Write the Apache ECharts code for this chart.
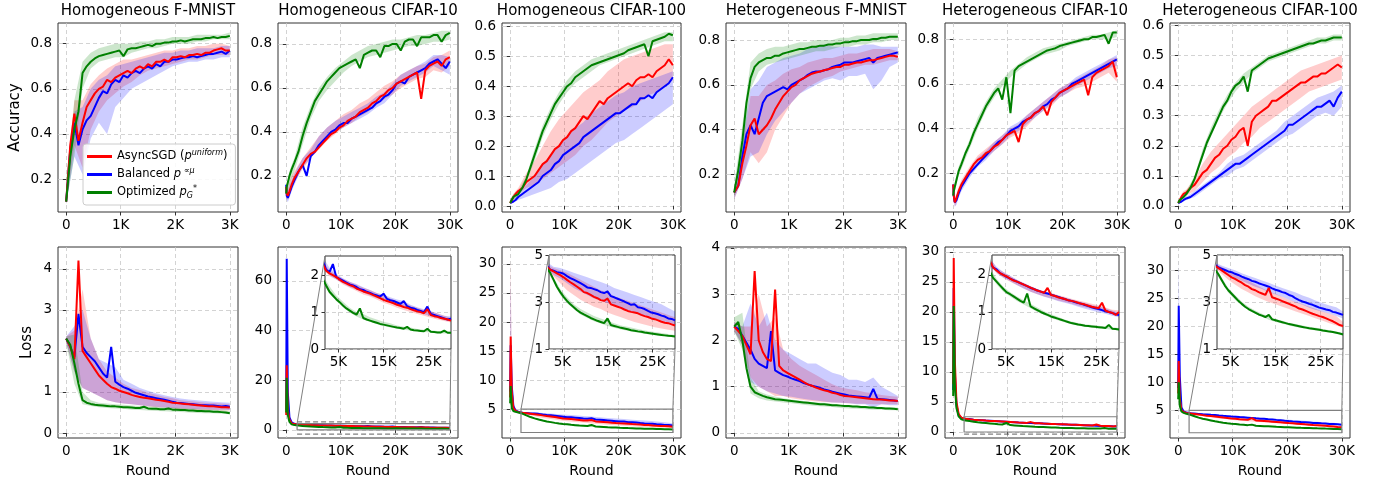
<!DOCTYPE html>
<html><head><meta charset="utf-8">
<script src="https://cdn.jsdelivr.net/npm/echarts@6/dist/echarts.min.js"></script>
<style>html,body{margin:0;padding:0;background:#fff}#c{width:1382px;height:484px}</style>
</head><body><div id="c"></div>
<script>
// ---------- x grids (rounds) ----------
const X3 = [0,75,150,225,300,375,450,525,600,675,750,825,900,975,1050,1125,1200,1275,1350,1425,1500,1575,1650,1725,1800,1875,1950,2025,2100,2175,2250,2325,2400,2475,2550,2625,2700,2775,2850,2925,3000];
const XB3 = [0,150,300,450,600,750,900,1050,1200,1350,1500,1650,1800,1950,2100,2250,2400,2550,2700,2850,3000];
const X30 = [0,100,300,600,1000,1500,2250,3000,3750,4500,5250,6000,6750,7500,8250,9000,9750,10500,11250,12000,12750,13500,14250,15000,15750,16500,17250,18000,18750,19500,20250,21000,21750,22500,23250,24000,24750,25500,26250,27000,27750,28500,29250,30000];
const XB30 = [0,100,300,600,1000,1500,3000,4500,6000,7500,9000,10500,12000,13500,15000,16500,18000,19500,21000,22500,24000,25500,27000,28500,30000];

// ---------- titles / ticks ----------
const TITLES = ['Homogeneous F-MNIST','Homogeneous CIFAR-10','Homogeneous CIFAR-100','Heterogeneous F-MNIST','Heterogeneous CIFAR-10','Heterogeneous CIFAR-100'];
const X3_TICKS = [0,1000,2000,3000];
const X30_TICKS = [0,10000,20000,30000];
const INSET_X_TICKS = [5000,15000,25000];
const ACC_TICKS_A = [0.2,0.4,0.6,0.8];
const ACC_TICKS_B = [0,0.1,0.2,0.3,0.4,0.5,0.6];
const LOSS_TICKS_F = [0,1,2,3,4];
const LOSS_TICKS_C10 = [0,20,40,60];
const LOSS_TICKS_C100 = [5,10,15,20,25,30];
const LOSS_TICKS_HC10 = [0,5,10,15,20,25,30];
const INSET_TICKS_A = [0,1,2];
const INSET_TICKS_B = [1,3,5];

// ---------- Homogeneous F-MNIST accuracy ----------
const hfaR = [0.10,0.35,0.49,0.37,0.45,0.52,0.55,0.58,0.60,0.61,0.64,0.63,0.65,0.66,0.67,0.68,0.67,0.69,0.70,0.69,0.71,0.70,0.72,0.72,0.73,0.72,0.74,0.74,0.745,0.74,0.75,0.75,0.755,0.75,0.76,0.76,0.77,0.775,0.78,0.77,0.77];
const hfaB = [0.10,0.33,0.45,0.35,0.42,0.46,0.48,0.52,0.56,0.59,0.58,0.62,0.64,0.63,0.66,0.65,0.67,0.68,0.67,0.69,0.70,0.69,0.71,0.70,0.72,0.72,0.73,0.73,0.735,0.74,0.74,0.745,0.74,0.745,0.75,0.755,0.755,0.76,0.765,0.755,0.77];
const hfaG = [0.10,0.30,0.42,0.50,0.67,0.70,0.72,0.735,0.745,0.75,0.755,0.76,0.765,0.77,0.745,0.775,0.78,0.78,0.785,0.79,0.795,0.79,0.80,0.80,0.805,0.805,0.81,0.81,0.815,0.81,0.815,0.82,0.82,0.82,0.825,0.825,0.83,0.825,0.83,0.83,0.835];
const hfaRLo = [.09,.35,.25,.42,.50,.55,.58,.61,.63,.66,.68,.69,.70,.71,.72,.73,.73,.74,.75,.75,.75];
const hfaRHi = [.12,.55,.55,.62,.66,.69,.71,.73,.73,.74,.75,.76,.77,.77,.78,.78,.79,.79,.80,.80,.79];
const hfaBLo = [.09,.30,.22,.38,.45,.40,.52,.56,.60,.62,.64,.66,.68,.70,.71,.72,.72,.73,.73,.74,.74];
const hfaBHi = [.12,.50,.52,.60,.64,.66,.70,.71,.72,.73,.74,.75,.76,.76,.77,.77,.78,.78,.78,.79,.79];
const hfaGLo = [.09,.30,.60,.69,.72,.73,.74,.74,.76,.77,.78,.78,.79,.80,.80,.80,.81,.81,.82,.82,.82];
const hfaGHi = [.20,.55,.72,.76,.78,.79,.80,.80,.80,.81,.81,.82,.82,.83,.83,.83,.84,.84,.84,.84,.85];

// ---------- Homogeneous F-MNIST loss ----------
const hflR = [2.3,2.1,1.8,4.2,2.0,1.85,1.7,1.55,1.4,1.3,1.2,1.12,1.08,1.03,1.0,0.97,0.93,0.9,0.88,0.86,0.85,0.83,0.81,0.8,0.78,0.76,0.74,0.73,0.72,0.71,0.7,0.69,0.68,0.67,0.66,0.65,0.65,0.64,0.63,0.63,0.62];
const hflB = [2.3,2.1,1.85,2.9,2.1,1.95,1.85,1.75,1.6,1.45,1.35,2.1,1.25,1.18,1.12,1.08,1.03,0.98,0.95,0.92,0.89,0.87,0.85,0.83,0.81,0.79,0.76,0.74,0.73,0.72,0.71,0.7,0.69,0.68,0.68,0.67,0.67,0.66,0.65,0.66,0.64];
const hflG = [2.3,2.15,1.7,1.2,0.8,0.74,0.71,0.69,0.68,0.67,0.66,0.65,0.65,0.64,0.63,0.63,0.62,0.61,0.61,0.64,0.60,0.59,0.59,0.58,0.58,0.60,0.57,0.57,0.56,0.56,0.55,0.55,0.54,0.54,0.53,0.53,0.52,0.52,0.51,0.50,0.48];
const hflRLo = [2.2,1.5,1.1,1.0,0.9,0.8,0.75,0.72,0.7,0.68,0.65,0.63,0.62,0.6,0.58,0.58,0.57,0.56,0.56,0.55,0.55];
const hflRHi = [2.35,2.5,3.5,2.3,1.8,1.5,1.35,1.2,1.1,1.05,0.98,0.93,0.88,0.85,0.8,0.78,0.76,0.74,0.73,0.72,0.7];
const hflBLo = [2.2,1.5,1.1,1.0,0.9,0.8,0.75,0.72,0.7,0.68,0.66,0.64,0.62,0.61,0.6,0.59,0.58,0.58,0.57,0.57,0.56];
const hflBHi = [2.35,2.6,3.0,2.3,1.8,1.7,1.6,1.3,1.2,1.1,1.03,0.97,0.92,0.88,0.84,0.82,0.8,0.78,0.76,0.75,0.74];
const hflGLo = [2.2,1.2,0.7,0.66,0.63,0.61,0.6,0.59,0.57,0.56,0.55,0.54,0.53,0.52,0.51,0.5,0.49,0.48,0.48,0.47,0.46];
const hflGHi = [2.35,2.4,1.0,0.8,0.74,0.72,0.7,0.69,0.67,0.66,0.65,0.64,0.63,0.62,0.61,0.6,0.59,0.58,0.57,0.56,0.54];

// ---------- Homogeneous CIFAR-10 accuracy ----------
const hcaR = [0.15,0.12,0.11,0.13,0.16,0.19,0.22,0.25,0.28,0.30,0.31,0.33,0.35,0.37,0.39,0.40,0.42,0.43,0.45,0.46,0.47,0.49,0.50,0.51,0.53,0.54,0.56,0.57,0.59,0.60,0.62,0.63,0.64,0.65,0.66,0.67,0.55,0.68,0.70,0.71,0.72,0.70,0.73,0.74];
const hcaB = [0.16,0.11,0.10,0.12,0.15,0.18,0.22,0.25,0.20,0.29,0.31,0.34,0.36,0.38,0.40,0.41,0.43,0.44,0.44,0.46,0.47,0.48,0.49,0.50,0.51,0.53,0.54,0.56,0.57,0.59,0.62,0.63,0.62,0.65,0.66,0.67,0.68,0.69,0.71,0.72,0.73,0.71,0.69,0.72];
const hcaG = [0.12,0.15,0.17,0.20,0.23,0.26,0.31,0.38,0.44,0.49,0.54,0.57,0.60,0.63,0.65,0.67,0.69,0.70,0.71,0.72,0.73,0.69,0.75,0.76,0.77,0.77,0.74,0.79,0.79,0.80,0.80,0.77,0.81,0.82,0.82,0.79,0.83,0.83,0.83,0.84,0.84,0.81,0.84,0.85];
const hcaRLo = [.10,.10,.09,.11,.14,.17,.23,.28,.32,.36,.39,.42,.44,.47,.49,.52,.55,.57,.60,.62,.64,.65,.68,.67,.70];
const hcaRHi = [.17,.16,.14,.17,.20,.22,.28,.33,.38,.42,.45,.48,.50,.53,.55,.58,.61,.63,.66,.68,.70,.71,.74,.75,.77];
const hcaBLo = [.10,.09,.08,.10,.13,.16,.24,.28,.33,.37,.40,.42,.44,.46,.48,.51,.53,.57,.61,.63,.65,.67,.70,.68,.66];
const hcaBHi = [.17,.15,.13,.16,.18,.21,.28,.32,.38,.42,.45,.47,.49,.51,.53,.56,.58,.62,.66,.68,.70,.72,.75,.75,.74];
const hcaGLo = [.10,.12,.13,.16,.19,.22,.34,.46,.54,.59,.63,.67,.70,.72,.74,.75,.76,.77,.78,.79,.79,.80,.81,.81,.82];
const hcaGHi = [.15,.16,.18,.22,.25,.28,.42,.52,.60,.65,.69,.72,.75,.77,.79,.80,.81,.82,.82,.83,.84,.84,.85,.86,.86];

// ---------- Homogeneous CIFAR-10 loss ----------
const hclR = [6,26,8,4,2.6,2.3,2.12,2.05,2.0,1.95,1.88,1.82,1.78,1.73,1.7,1.64,1.6,1.56,1.53,1.5,1.46,1.42,1.38,1.33,1.3,1.27,1.24,1.2,1.17,1.14,1.12,1.08,1.05,1.02,1.0,0.97,1.08,0.92,0.89,0.87,0.84,0.82,0.8,0.77];
const hclB = [8,69,15,5,3,2.4,2.15,2.08,2.3,1.95,1.9,1.85,1.8,1.75,1.72,1.68,1.62,1.6,1.55,1.52,1.48,1.45,1.42,1.5,1.36,1.32,1.3,1.26,1.22,1.3,1.16,1.12,1.1,1.06,1.03,1.0,1.15,0.95,0.92,0.89,0.86,0.83,0.8,0.82];
const hclG = [7,21,6,3.2,2.2,1.9,1.72,1.55,1.45,1.35,1.27,1.18,1.1,1.04,0.98,0.93,1.1,0.84,0.8,0.77,0.74,0.71,0.68,0.66,0.64,0.62,0.6,0.58,0.57,0.55,0.6,0.53,0.51,0.5,0.49,0.48,0.55,0.47,0.46,0.45,0.45,0.5,0.44,0.44];
const hclRLo = [5,18,6,3.5,2.4,2.2,1.97,1.88,1.75,1.66,1.57,1.48,1.42,1.34,1.25,1.19,1.12,1.06,1.0,0.95,0.9,0.85,0.8,0.76,0.72];
const hclRHi = [8,30,10,4.5,2.8,2.4,2.13,2.02,1.9,1.82,1.74,1.66,1.6,1.52,1.45,1.37,1.3,1.24,1.18,1.12,1.06,1.02,0.97,0.9,0.84];
const hclBLo = [6,55,10,4,2.7,2.3,2.0,1.88,1.78,1.68,1.61,1.53,1.45,1.38,1.32,1.25,1.19,1.13,1.06,1.0,0.94,0.89,0.84,0.78,0.75];
const hclBHi = [10,70,20,6,3.3,2.5,2.2,2.03,1.92,1.82,1.76,1.67,1.6,1.52,1.48,1.4,1.34,1.3,1.2,1.13,1.08,1.02,0.96,0.9,0.88];
const hclGLo = [5,15,4,2.8,2.0,1.8,1.5,1.3,1.13,0.99,0.88,0.8,0.74,0.68,0.62,0.58,0.55,0.52,0.5,0.48,0.46,0.45,0.43,0.42,0.42];
const hclGHi = [8,24,8,3.6,2.4,2.0,1.7,1.45,1.28,1.12,1.0,0.95,0.86,0.8,0.74,0.7,0.64,0.6,0.58,0.54,0.52,0.51,0.49,0.48,0.47];

// ---------- Homogeneous CIFAR-100 accuracy ----------
const hc1aR = [0.01,0.012,0.02,0.03,0.04,0.05,0.06,0.08,0.09,0.10,0.12,0.14,0.15,0.17,0.19,0.20,0.22,0.23,0.25,0.26,0.28,0.30,0.29,0.31,0.33,0.35,0.34,0.36,0.37,0.38,0.39,0.40,0.41,0.40,0.42,0.43,0.43,0.44,0.43,0.45,0.46,0.47,0.49,0.47];
const hc1aB = [0.01,0.01,0.012,0.015,0.02,0.03,0.04,0.05,0.06,0.07,0.08,0.10,0.11,0.12,0.14,0.15,0.17,0.18,0.19,0.20,0.21,0.23,0.24,0.25,0.26,0.27,0.28,0.29,0.30,0.31,0.31,0.32,0.33,0.34,0.34,0.36,0.36,0.37,0.36,0.38,0.39,0.40,0.41,0.43];
const hc1aG = [0.01,0.015,0.02,0.03,0.035,0.04,0.06,0.09,0.13,0.17,0.21,0.25,0.28,0.31,0.34,0.36,0.38,0.40,0.41,0.43,0.44,0.45,0.46,0.47,0.475,0.48,0.485,0.49,0.495,0.50,0.505,0.51,0.52,0.525,0.53,0.535,0.54,0.50,0.55,0.555,0.56,0.565,0.575,0.57];
const hc1aRLo = [.01,.01,.01,.02,.03,.04,.06,.07,.09,.11,.13,.15,.17,.20,.22,.25,.28,.30,.32,.33,.35,.37,.38,.40,.42];
const hc1aRHi = [.02,.02,.03,.04,.05,.06,.11,.15,.20,.25,.29,.32,.35,.38,.40,.42,.45,.47,.49,.50,.51,.52,.53,.54,.54];
const hc1aBLo = [.01,.01,.01,.01,.015,.02,.03,.04,.05,.06,.08,.09,.11,.13,.15,.17,.19,.21,.22,.24,.26,.28,.30,.32,.34];
const hc1aBHi = [.02,.02,.02,.02,.03,.04,.07,.10,.14,.17,.20,.23,.26,.28,.31,.33,.35,.37,.38,.40,.41,.42,.43,.44,.45];
const hc1aGLo = [.005,.01,.01,.02,.025,.03,.08,.15,.23,.29,.34,.38,.41,.43,.45,.47,.48,.49,.50,.51,.52,.53,.54,.55,.55];
const hc1aGHi = [.02,.025,.03,.04,.045,.05,.10,.19,.27,.33,.38,.42,.45,.47,.49,.50,.51,.52,.53,.54,.55,.56,.57,.58,.58];

// ---------- Homogeneous CIFAR-100 loss ----------
const hc1lR = [7,17.5,8,5.2,4.7,4.5,4.38,4.3,4.22,4.14,4.05,3.94,3.84,3.75,3.65,3.55,3.42,3.38,3.3,3.22,3.16,3.08,3.05,3.15,2.9,2.85,2.8,2.75,2.68,2.62,2.58,2.55,2.52,2.45,2.4,2.36,2.3,2.27,2.22,2.16,2.12,2.1,2.05,2.0];
const hc1lB = [8,16,9,5.5,4.8,4.55,4.38,4.33,4.27,4.25,4.2,4.1,4.02,3.95,3.88,3.8,3.72,3.62,3.6,3.55,3.5,3.42,3.38,3.45,3.25,3.2,3.14,3.08,3.02,2.95,2.88,2.9,2.78,2.75,2.7,2.62,2.55,2.52,2.48,2.42,2.38,2.3,2.28,2.22];
const hc1lG = [6,9,5.2,4.7,4.55,4.45,4.25,3.95,3.65,3.42,3.22,3.05,2.9,2.78,2.65,2.55,2.47,2.4,2.32,2.26,2.2,2.15,2.1,2.3,2.02,1.98,1.94,1.9,1.87,1.84,1.8,1.78,1.75,1.73,1.7,1.68,1.66,1.64,1.62,1.6,1.58,1.56,1.55,1.53];
const hc1lRLo = [5,10,6,4.7,4.5,4.35,4.1,3.8,3.5,3.3,3.1,2.95,2.8,2.7,2.55,2.45,2.35,2.25,2.15,2.07,2.0,1.93,1.87,1.82,1.78];
const hc1lRHi = [8,31,10,5.8,4.9,4.6,4.45,4.35,4.25,4.1,3.95,3.8,3.65,3.5,3.4,3.25,3.15,3.05,2.95,2.85,2.75,2.65,2.55,2.45,2.35];
const hc1lBLo = [6,12,7,4.9,4.6,4.4,4.15,4.0,3.8,3.6,3.45,3.3,3.15,3.05,2.95,2.85,2.75,2.65,2.55,2.45,2.35,2.3,2.2,2.12,2.05];
const hc1lBHi = [9,28,11,6.2,5.0,4.7,4.5,4.45,4.35,4.25,4.15,4.05,3.95,3.85,3.75,3.6,3.5,3.4,3.3,3.2,3.1,3.0,2.9,2.75,2.6];
const hc1lGLo = [5,7,4.8,4.5,4.45,4.35,3.85,3.3,2.95,2.7,2.47,2.32,2.18,2.08,1.98,1.9,1.83,1.78,1.72,1.67,1.63,1.59,1.55,1.52,1.49];
const hc1lGHi = [7,10,5.6,4.9,4.65,4.55,4.05,3.55,3.2,2.9,2.7,2.55,2.4,2.3,2.2,2.1,2.0,1.95,1.88,1.82,1.77,1.72,1.68,1.64,1.6];

// ---------- Heterogeneous F-MNIST accuracy ----------
const hefaR = [0.12,0.15,0.25,0.33,0.42,0.45,0.38,0.40,0.42,0.45,0.49,0.52,0.55,0.57,0.59,0.60,0.62,0.63,0.64,0.65,0.655,0.66,0.665,0.67,0.675,0.68,0.68,0.69,0.69,0.695,0.70,0.70,0.705,0.71,0.71,0.715,0.72,0.725,0.73,0.73,0.725];
const hefaB = [0.12,0.15,0.28,0.38,0.42,0.38,0.45,0.52,0.55,0.56,0.57,0.58,0.59,0.58,0.60,0.61,0.62,0.63,0.645,0.655,0.66,0.66,0.665,0.67,0.68,0.685,0.69,0.70,0.70,0.70,0.705,0.71,0.715,0.72,0.70,0.72,0.725,0.73,0.735,0.74,0.745];
const hefaG = [0.12,0.22,0.35,0.52,0.63,0.68,0.70,0.71,0.72,0.72,0.73,0.73,0.74,0.745,0.75,0.755,0.76,0.76,0.765,0.77,0.77,0.775,0.775,0.78,0.78,0.785,0.785,0.79,0.79,0.795,0.795,0.80,0.80,0.80,0.805,0.805,0.81,0.81,0.815,0.815,0.815];
const hefaRLo = [.09,.18,.30,.25,.30,.40,.46,.52,.56,.59,.61,.63,.64,.66,.67,.68,.69,.69,.70,.71,.71];
const hefaRHi = [.14,.32,.55,.55,.60,.62,.65,.67,.68,.70,.71,.72,.72,.73,.74,.74,.75,.76,.76,.76,.75];
const hefaBLo = [.09,.18,.28,.30,.38,.44,.48,.52,.56,.58,.60,.62,.63,.62,.64,.64,.65,.58,.62,.68,.70];
const hefaBHi = [.14,.35,.58,.62,.68,.70,.72,.73,.74,.76,.77,.78,.77,.77,.77,.77,.78,.78,.77,.77,.77];
const hefaGLo = [.09,.28,.58,.66,.69,.70,.71,.72,.73,.74,.75,.75,.76,.77,.77,.78,.78,.79,.79,.80,.80];
const hefaGHi = [.15,.42,.70,.74,.76,.77,.77,.78,.79,.79,.80,.80,.80,.81,.81,.82,.82,.83,.83,.83,.83];

// ---------- Heterogeneous F-MNIST loss ----------
const heflR = [2.3,2.2,2.1,1.9,1.7,3.5,2.0,1.75,1.6,1.55,3.1,1.45,1.35,1.3,1.25,1.2,1.15,1.1,1.05,1.02,0.98,0.95,0.92,0.9,0.87,0.85,0.82,0.8,0.79,0.78,0.77,0.76,0.75,0.74,0.73,0.72,0.72,0.71,0.7,0.7,0.69];
const heflB = [2.3,2.25,2.1,1.95,1.8,1.6,1.5,1.45,1.4,2.2,1.35,1.3,1.25,1.22,1.18,1.15,1.12,1.08,1.05,1.02,1.0,0.97,0.94,0.92,0.89,0.87,0.85,0.83,0.81,0.8,0.79,0.78,0.77,0.76,0.95,0.74,0.73,0.72,0.71,0.7,0.69];
const heflG = [2.3,2.4,2.0,1.4,1.0,0.88,0.84,0.8,0.77,0.75,0.73,0.72,0.71,0.7,0.69,0.68,0.67,0.66,0.65,0.64,0.63,0.62,0.62,0.61,0.6,0.6,0.59,0.58,0.58,0.57,0.57,0.56,0.56,0.55,0.55,0.54,0.54,0.53,0.53,0.52,0.51];
const heflRLo = [2.2,1.9,1.2,1.0,0.9,0.8,0.8,0.75,0.72,0.7,0.68,0.67,0.66,0.65,0.64,0.63,0.63,0.62,0.62,0.62,0.62];
const heflRHi = [2.4,2.3,2.3,3.0,2.3,2.5,1.8,1.6,1.45,1.35,1.25,1.15,1.05,0.98,0.95,0.92,0.88,0.86,0.82,0.8,0.78];
const heflBLo = [2.2,1.9,1.1,1.0,0.9,0.85,0.8,0.78,0.75,0.72,0.7,0.68,0.66,0.65,0.64,0.62,0.62,0.55,0.62,0.6,0.6];
const heflBHi = [2.4,2.3,2.8,2.3,2.6,2.0,1.8,1.7,1.6,1.5,1.5,1.4,1.3,1.25,1.15,1.15,1.1,1.2,1.0,0.9,0.8];
const heflGLo = [2.2,1.8,0.85,0.75,0.7,0.68,0.66,0.64,0.62,0.6,0.58,0.57,0.56,0.54,0.53,0.52,0.51,0.5,0.5,0.49,0.49];
const heflGHi = [2.5,2.6,1.2,0.9,0.83,0.79,0.75,0.72,0.7,0.68,0.66,0.65,0.63,0.61,0.6,0.59,0.58,0.57,0.56,0.55,0.55];

// ---------- Heterogeneous CIFAR-10 accuracy ----------
const hecaR = [0.15,0.10,0.07,0.09,0.12,0.15,0.18,0.21,0.24,0.26,0.27,0.29,0.30,0.32,0.33,0.35,0.37,0.38,0.39,0.34,0.42,0.44,0.45,0.47,0.48,0.50,0.46,0.52,0.54,0.56,0.57,0.58,0.59,0.60,0.61,0.62,0.55,0.63,0.65,0.66,0.67,0.68,0.70,0.63];
const hecaB = [0.15,0.10,0.07,0.08,0.11,0.14,0.17,0.20,0.22,0.24,0.26,0.28,0.30,0.32,0.34,0.35,0.37,0.39,0.40,0.41,0.43,0.44,0.45,0.47,0.48,0.50,0.51,0.53,0.54,0.56,0.57,0.58,0.60,0.61,0.62,0.63,0.64,0.65,0.66,0.67,0.68,0.69,0.70,0.71];
const hecaG = [0.10,0.12,0.14,0.17,0.21,0.24,0.29,0.33,0.38,0.42,0.46,0.50,0.53,0.56,0.58,0.53,0.63,0.47,0.66,0.68,0.69,0.70,0.71,0.72,0.73,0.74,0.75,0.755,0.76,0.77,0.775,0.78,0.785,0.79,0.795,0.80,0.80,0.81,0.81,0.815,0.82,0.78,0.83,0.83];
const hecaRLo = [.12,.08,.05,.07,.10,.13,.19,.24,.27,.30,.33,.36,.38,.41,.45,.48,.50,.54,.56,.58,.59,.61,.63,.65,.61];
const hecaRHi = [.17,.12,.09,.11,.14,.17,.23,.28,.31,.34,.37,.40,.42,.46,.49,.52,.55,.58,.60,.62,.64,.66,.68,.71,.72];
const hecaBLo = [.12,.08,.05,.06,.09,.12,.18,.23,.26,.30,.33,.37,.39,.42,.45,.48,.51,.54,.56,.59,.61,.63,.65,.67,.68];
const hecaBHi = [.17,.12,.09,.10,.13,.16,.22,.27,.30,.34,.37,.41,.43,.46,.49,.52,.55,.58,.60,.63,.65,.67,.69,.71,.73];
const hecaGLo = [.07,.10,.12,.15,.19,.22,.31,.40,.48,.54,.59,.63,.66,.69,.71,.73,.74,.75,.77,.78,.79,.80,.80,.80,.81];
const hecaGHi = [.17,.14,.16,.19,.23,.26,.35,.45,.52,.58,.62,.66,.69,.72,.74,.76,.77,.78,.79,.80,.81,.82,.82,.83,.84];

// ---------- Heterogeneous CIFAR-10 loss ----------
const heclR = [8,29,12,5,3,2.4,2.2,2.12,2.05,2.0,1.96,1.9,1.85,1.82,1.78,1.74,1.7,1.66,1.62,1.58,1.55,1.52,1.65,1.46,1.44,1.4,1.38,1.35,1.32,1.3,1.28,1.25,1.22,1.2,1.17,1.14,1.12,1.1,1.25,1.04,1.0,0.98,0.92,1.0];
const heclB = [7,24,10,4.5,2.8,2.35,2.2,2.15,2.05,2.0,1.95,1.9,1.86,1.82,1.78,1.74,1.7,1.65,1.62,1.58,1.55,1.52,1.5,1.47,1.44,1.41,1.38,1.35,1.32,1.3,1.27,1.24,1.22,1.19,1.16,1.13,1.1,1.08,1.05,1.02,1.0,0.97,0.94,0.92];
const heclG = [6,21,8,4,2.6,2.1,1.92,1.82,1.72,1.62,1.53,1.48,1.42,1.36,1.3,1.25,1.5,1.15,1.1,1.05,1.0,0.96,0.92,0.88,0.85,0.82,0.79,0.76,0.73,0.7,0.68,0.66,0.65,0.63,0.62,0.61,0.6,0.59,0.58,0.57,0.65,0.55,0.54,0.53];
const heclRLo = [6,22,9,4,2.7,2.3,2.05,1.92,1.82,1.72,1.64,1.55,1.48,1.42,1.37,1.31,1.27,1.22,1.17,1.13,1.08,1.04,0.99,0.94,0.9];
const heclRHi = [10,29,14,6,3.3,2.5,2.18,2.08,1.97,1.87,1.79,1.7,1.62,1.56,1.52,1.46,1.41,1.36,1.31,1.27,1.22,1.18,1.12,1.06,1.05];
const heclBLo = [6,18,8,3.8,2.6,2.25,2.07,1.93,1.83,1.73,1.63,1.55,1.48,1.41,1.36,1.3,1.25,1.2,1.14,1.09,1.04,0.99,0.95,0.9,0.86];
const heclBHi = [9,26,12,5.2,3.0,2.45,2.22,2.08,1.98,1.87,1.77,1.69,1.62,1.55,1.5,1.44,1.39,1.34,1.29,1.24,1.19,1.15,1.1,1.04,0.98];
const heclGLo = [5,18,6,3.5,2.4,2.0,1.75,1.55,1.42,1.3,1.2,1.1,1.0,0.92,0.84,0.78,0.72,0.67,0.63,0.6,0.58,0.56,0.54,0.52,0.5];
const heclGHi = [8,22,10,4.5,2.8,2.2,1.9,1.68,1.54,1.42,1.32,1.22,1.12,1.02,0.94,0.87,0.8,0.74,0.7,0.67,0.65,0.63,0.61,0.59,0.57];

// ---------- Heterogeneous CIFAR-100 accuracy ----------
const hec1aR = [0.01,0.012,0.02,0.03,0.04,0.045,0.06,0.07,0.09,0.11,0.12,0.14,0.16,0.17,0.19,0.20,0.22,0.23,0.25,0.26,0.20,0.28,0.30,0.31,0.32,0.33,0.35,0.35,0.36,0.37,0.38,0.39,0.40,0.41,0.41,0.42,0.43,0.43,0.44,0.44,0.45,0.46,0.47,0.46];
const hec1aB = [0.01,0.01,0.012,0.015,0.02,0.025,0.03,0.04,0.05,0.06,0.07,0.08,0.09,0.10,0.11,0.12,0.13,0.14,0.14,0.15,0.16,0.17,0.18,0.19,0.20,0.21,0.22,0.23,0.24,0.25,0.27,0.27,0.28,0.29,0.30,0.31,0.32,0.33,0.33,0.34,0.35,0.33,0.36,0.38];
const hec1aG = [0.01,0.012,0.02,0.025,0.03,0.04,0.06,0.09,0.13,0.17,0.21,0.24,0.27,0.30,0.33,0.35,0.38,0.40,0.41,0.43,0.38,0.45,0.46,0.47,0.48,0.49,0.495,0.50,0.505,0.51,0.515,0.52,0.525,0.53,0.535,0.54,0.54,0.545,0.55,0.55,0.555,0.56,0.56,0.56];
const hec1aRLo = [.005,.01,.01,.02,.03,.035,.05,.08,.11,.13,.16,.18,.21,.23,.26,.28,.30,.32,.34,.36,.38,.39,.40,.41,.42];
const hec1aRHi = [.02,.02,.03,.04,.05,.055,.09,.14,.18,.21,.24,.27,.30,.33,.35,.37,.39,.41,.43,.45,.46,.47,.48,.49,.50];
const hec1aBLo = [.005,.005,.01,.01,.015,.02,.03,.05,.07,.09,.10,.12,.13,.15,.17,.19,.21,.23,.24,.26,.28,.30,.31,.30,.33];
const hec1aBHi = [.015,.015,.02,.02,.025,.03,.05,.07,.09,.11,.14,.16,.17,.19,.21,.23,.25,.28,.30,.32,.34,.36,.37,.38,.40];
const hec1aGLo = [.005,.01,.015,.02,.025,.03,.08,.16,.23,.29,.34,.38,.41,.44,.46,.48,.49,.50,.51,.52,.53,.54,.54,.55,.55];
const hec1aGHi = [.02,.02,.025,.03,.035,.05,.10,.19,.26,.32,.37,.41,.44,.46,.48,.50,.51,.52,.53,.54,.55,.56,.56,.57,.57];

// ---------- Heterogeneous CIFAR-100 loss ----------
const hec1lR = [8,13.8,7,5,4.7,4.55,4.45,4.35,4.25,4.15,4.05,3.98,3.9,3.82,3.72,3.65,3.55,3.5,3.42,3.36,3.3,3.6,3.2,3.15,3.1,3.04,2.98,2.92,2.86,2.8,2.72,2.68,2.62,2.56,2.5,2.45,2.4,2.36,2.3,2.24,2.18,2.1,2.02,1.98];
const hec1lB = [9,23.7,11,5.5,4.8,4.6,4.48,4.42,4.36,4.3,4.27,4.2,4.15,4.08,4.02,3.97,3.9,3.86,3.8,3.75,3.7,3.65,3.58,3.52,3.48,3.42,3.38,3.3,3.25,3.15,3.08,3.02,2.98,2.92,2.88,2.82,2.76,2.72,2.68,2.65,2.58,2.55,2.5,2.45];
const hec1lG = [7,10,5.8,4.8,4.55,4.4,4.2,3.95,3.7,3.5,3.35,3.2,3.05,2.92,2.8,2.7,2.62,2.55,2.47,2.42,2.36,2.45,2.26,2.22,2.18,2.14,2.1,2.06,2.03,2.0,1.97,1.94,1.91,1.88,1.86,1.84,1.82,1.79,1.77,1.74,1.72,1.69,1.66,1.62];
const hec1lRLo = [6,10,6,4.8,4.6,4.45,4.2,3.95,3.75,3.55,3.4,3.25,3.12,3.0,2.9,2.8,2.7,2.6,2.5,2.4,2.3,2.2,2.1,2.0,1.9];
const hec1lRHi = [10,16,8,5.2,4.8,4.65,4.5,4.35,4.2,4.05,3.9,3.75,3.6,3.45,3.35,3.22,3.1,3.0,2.9,2.8,2.7,2.6,2.5,2.4,2.15];
const hec1lBLo = [7,20,9,5.2,4.7,4.5,4.3,4.15,4.02,3.9,3.78,3.65,3.55,3.42,3.32,3.22,3.1,2.98,2.88,2.76,2.66,2.58,2.5,2.4,2.3];
const hec1lBHi = [12,32,13,5.8,4.95,4.7,4.55,4.45,4.35,4.22,4.12,4.02,3.92,3.82,3.7,3.6,3.5,3.4,3.28,3.18,3.05,2.95,2.85,2.78,2.6];
const hec1lGLo = [6,8,5.4,4.7,4.45,4.3,3.85,3.4,3.1,2.85,2.65,2.5,2.37,2.25,2.15,2.08,2.0,1.94,1.88,1.83,1.79,1.74,1.7,1.66,1.58];
const hec1lGHi = [8,12,6.2,4.9,4.65,4.5,4.05,3.6,3.3,3.02,2.8,2.64,2.5,2.38,2.28,2.2,2.12,2.06,2.0,1.95,1.9,1.85,1.8,1.75,1.68];

// ---------- layout & style ----------
const FONT = 'DejaVu Sans';
const AX = '#333333';
const GRIDC = '#c8c8c8';
const NAMES = ['AsyncSGD','Balanced','Optimized'];
const COLORS = ['#ff0000','#0000ff','#008000'];
const COLS = [{l:58,w:180},{l:278,w:180},{l:502,w:179},{l:726,w:180},{l:945,w:180},{l:1170,w:180}];
const ROWS = [{t:23,h:189},{t:247,h:191}];

const panels = [
  {r:0,c:0,xs:X3,xb:XB3,xmax:3000,y:[0.054,0.892],yt:ACC_TICKS_A,acc:true,L:[hfaR,hfaB,hfaG],B:[[hfaRLo,hfaRHi],[hfaBLo,hfaBHi],[hfaGLo,hfaGHi]]},
  {r:0,c:1,xs:X30,xb:XB30,xmax:30000,y:[0.036,0.895],yt:ACC_TICKS_A,acc:true,L:[hcaR,hcaB,hcaG],B:[[hcaRLo,hcaRHi],[hcaBLo,hcaBHi],[hcaGLo,hcaGHi]]},
  {r:0,c:2,xs:X30,xb:XB30,xmax:30000,y:[-0.02,0.611],yt:ACC_TICKS_B,acc:true,L:[hc1aR,hc1aB,hc1aG],B:[[hc1aRLo,hc1aRHi],[hc1aBLo,hc1aBHi],[hc1aGLo,hc1aGHi]]},
  {r:0,c:3,xs:X3,xb:XB3,xmax:3000,y:[0.033,0.876],yt:ACC_TICKS_A,acc:true,L:[hefaR,hefaB,hefaG],B:[[hefaRLo,hefaRHi],[hefaBLo,hefaBHi],[hefaGLo,hefaGHi]]},
  {r:0,c:4,xs:X30,xb:XB30,xmax:30000,y:[0.027,0.873],yt:ACC_TICKS_A,acc:true,L:[hecaR,hecaB,hecaG],B:[[hecaRLo,hecaRHi],[hecaBLo,hecaBHi],[hecaGLo,hecaGHi]]},
  {r:0,c:5,xs:X30,xb:XB30,xmax:30000,y:[-0.02,0.608],yt:ACC_TICKS_B,acc:true,L:[hec1aR,hec1aB,hec1aG],B:[[hec1aRLo,hec1aRHi],[hec1aBLo,hec1aBHi],[hec1aGLo,hec1aGHi]]},
  {r:1,c:0,xs:X3,xb:XB3,xmax:3000,y:[-0.12,4.53],yt:LOSS_TICKS_F,L:[hflR,hflB,hflG],B:[[hflRLo,hflRHi],[hflBLo,hflBHi],[hflGLo,hflGHi]]},
  {r:1,c:1,xs:X30,xb:XB30,xmax:30000,y:[-3.3,73.7],yt:LOSS_TICKS_C10,L:[hclR,hclB,hclG],B:[[hclRLo,hclRHi],[hclBLo,hclBHi],[hclGLo,hclGHi]]},
  {r:1,c:2,xs:X30,xb:XB30,xmax:30000,y:[0.05,32.9],yt:LOSS_TICKS_C100,L:[hc1lR,hc1lB,hc1lG],B:[[hc1lRLo,hc1lRHi],[hc1lBLo,hc1lBHi],[hc1lGLo,hc1lGHi]]},
  {r:1,c:3,xs:X3,xb:XB3,xmax:3000,y:[-0.11,4.02],yt:LOSS_TICKS_F,L:[heflR,heflB,heflG],B:[[heflRLo,heflRHi],[heflBLo,heflBHi],[heflGLo,heflGHi]]},
  {r:1,c:4,xs:X30,xb:XB30,xmax:30000,y:[-1.0,30.83],yt:LOSS_TICKS_HC10,L:[heclR,heclB,heclG],B:[[heclRLo,heclRHi],[heclBLo,heclBHi],[heclGLo,heclGHi]]},
  {r:1,c:5,xs:X30,xb:XB30,xmax:30000,y:[0.06,34.2],yt:LOSS_TICKS_C100,L:[hec1lR,hec1lB,hec1lG],B:[[hec1lRLo,hec1lRHi],[hec1lBLo,hec1lBHi],[hec1lGLo,hec1lGHi]]}
];
// inset boxes; dash = [upper, lower] extra dashed guide levels in the parent's y units
const insets = [
  {main:7, l:325,t:256,w:126,h:93, y:[0,2.52], yt:INSET_TICKS_A, dash:[3.2,-1.7]},
  {main:8, l:549,t:255,w:126,h:94, y:[1,5], yt:INSET_TICKS_B},
  {main:10,l:992,t:255,w:127,h:94, y:[0,2.54], yt:INSET_TICKS_A, dash:[null,-0.35]},
  {main:11,l:1217,t:255,w:126,h:94, y:[1,5], yt:INSET_TICKS_B}
];
const INSET_X = [2000,30000];

const fmtX = v => v === 0 ? '0' : (v/1000) + 'K';
const lbl = {fontFamily:FONT, fontSize:13.5, color:'#000'};

const grid = [], xAxis = [], yAxis = [], series = [];
function mkAxes(gi, xr, xt, yr, yt, yfmt, z) {
  xAxis.push({type:'value', gridIndex:gi, min:xr[0], max:xr[1], z:z,
    axisLine:{show:false}, axisTick:{show:true, customValues:xt, length:3.5, lineStyle:{color:AX}},
    axisLabel:Object.assign({customValues:xt, formatter:fmtX, margin:6}, lbl),
    splitLine:{show:true, lineStyle:{color:GRIDC, type:[4,3], width:0.8}}});
  yAxis.push({type:'value', gridIndex:gi, min:yr[0], max:yr[1], z:z,
    axisLine:{show:false}, axisTick:{show:true, customValues:yt, length:3.5, lineStyle:{color:AX}},
    axisLabel:Object.assign({customValues:yt, formatter:yfmt, margin:6}, lbl),
    splitLine:{show:true, lineStyle:{color:GRIDC, type:[4,3], width:0.8}}});
}
function pairs(xs, ys) { return xs.map((x, i) => [x, ys[i]]); }
function bandSeries(ai, xb, lo, hi, color, z) {
  return {type:'custom', xAxisIndex:ai, yAxisIndex:ai, silent:true, z:z, clip:true,
    data:[[xb[0], lo[0]]],
    renderItem: (params, api) => {
      const pts = [];
      for (let i = 0; i < xb.length; i++) pts.push(api.coord([xb[i], hi[i]]));
      for (let i = xb.length - 1; i >= 0; i--) pts.push(api.coord([xb[i], lo[i]]));
      const cs = params.coordSys;
      return {type:'group', children:[{type:'polygon', shape:{points:pts}, style:{fill:color, opacity:0.2, stroke:null}}],
        clipPath:{type:'rect', shape:{x:cs.x, y:cs.y, width:cs.width, height:cs.height}}};
    }};
}
function addSeries(ai, p, z0) {
  p.B.forEach((b, k) => series.push(bandSeries(ai, p.xb, b[0], b[1], COLORS[k], z0)));
  [[1,1],[0,2],[2,3]].forEach(([k, dz]) => {
    series.push({name:NAMES[k], type:'line', xAxisIndex:ai, yAxisIndex:ai, data:pairs(p.xs, p.L[k]), symbol:'none', color:COLORS[k], itemStyle:{color:COLORS[k]}, lineStyle:{color:COLORS[k], width:2}, silent:true, clip:true, z:z0 + dz});
  });
}

panels.forEach((p, i) => {
  const C = COLS[p.c], R = ROWS[p.r];
  grid.push({left:C.l, top:R.t, width:C.w, height:R.h, show:true, borderColor:AX, borderWidth:1, backgroundColor:'#fff', z:0});
  const xr = [-0.05 * p.xmax, 1.05 * p.xmax];
  mkAxes(i, xr, p.xmax === 3000 ? X3_TICKS : X30_TICKS, p.y, p.yt, p.acc ? (v => v.toFixed(1)) : (v => String(v)), 0);
  addSeries(i, p, 1);
});
yAxis[0].name = 'Accuracy'; yAxis[0].nameLocation = 'middle'; yAxis[0].nameGap = 35; yAxis[0].nameRotate = 90;
yAxis[0].nameTextStyle = {fontFamily:FONT, fontSize:15, color:'#000'};
yAxis[6].name = 'Loss'; yAxis[6].nameLocation = 'middle'; yAxis[6].nameGap = 23; yAxis[6].nameRotate = 90;
yAxis[6].nameTextStyle = {fontFamily:FONT, fontSize:15, color:'#000'};
for (let i = 6; i < 12; i++) {
  xAxis[i].name = 'Round'; xAxis[i].nameLocation = 'middle'; xAxis[i].nameGap = 26;
  xAxis[i].nameTextStyle = {fontFamily:FONT, fontSize:14, color:'#000'};
}
insets.forEach((ins, j) => {
  const gi = 12 + j;
  grid.push({left:ins.l, top:ins.t, width:ins.w, height:ins.h, show:true, borderColor:AX, borderWidth:1, backgroundColor:'#fff', z:10});
  mkAxes(gi, INSET_X, INSET_X_TICKS, ins.y, ins.yt, v => String(v), 11);
  addSeries(gi, panels[ins.main], 12);
});

const LEGEND_TEXT = {
  AsyncSGD: 'AsyncSGD ({i|p}{sup|uniform})',
  Balanced: 'Balanced {i|p}{sup| ∝μ}',
  Optimized: 'Optimized {i|p}{sub|G}{sup|*}'
};

const option = {
  animation:false,
  backgroundColor:'#fff',
  grid, xAxis, yAxis, series,
  legend:{
    data:NAMES, left:83, top:144, orient:'vertical', icon:'rect', itemWidth:25, itemHeight:3, itemGap:3,
    padding:[5,8,5,4], backgroundColor:'rgba(255,255,255,0.85)', borderColor:'#cccccc', borderWidth:1, borderRadius:3,
    selectedMode:false, z:30,
    formatter: n => LEGEND_TEXT[n],
    textStyle:{fontFamily:FONT, fontSize:11.5, color:'#000', lineHeight:15,
      rich:{
        i:{fontFamily:FONT, fontSize:11.5, fontStyle:'italic', lineHeight:15},
        sup:{fontFamily:FONT, fontSize:8, fontStyle:'italic', lineHeight:9, verticalAlign:'top'},
        sub:{fontFamily:FONT, fontSize:8, fontStyle:'italic', lineHeight:9, verticalAlign:'bottom'}
      }}
  },
  graphic: TITLES.map((t, c) => ({type:'text', x:COLS[c].l + COLS[c].w / 2, y:11, z:40,
    style:{text:t, fontFamily:FONT, fontSize:15, fill:'#000', textAlign:'center', textVerticalAlign:'middle'}}))
};

const chart = echarts.init(document.getElementById('c'), null, {renderer:'canvas'});
chart.setOption(option);

const extra = [];
insets.forEach(ins => {
  const toPx = v => chart.convertToPixel({gridIndex:ins.main}, v);
  const tl = toPx([INSET_X[0], ins.y[1]]);
  const br = toPx([INSET_X[1], ins.y[0]]);
  const gs = {stroke:'#808080', lineWidth:1.2, fill:null};
  extra.push({type:'rect', z:45, shape:{x:tl[0], y:tl[1], width:br[0] - tl[0], height:br[1] - tl[1]}, style:gs});
  if (ins.dash) {
    const ds = {stroke:'#808080', lineWidth:1.2, lineDash:[5,3]};
    ins.dash.forEach(v => {
      if (v === null) return;
      const py = toPx([INSET_X[0], v])[1];
      extra.push({type:'line', z:45, shape:{x1:tl[0], y1:py, x2:br[0], y2:py}, style:ds});
    });
  }
  extra.push({type:'line', z:45, shape:{x1:tl[0], y1:tl[1], x2:ins.l, y2:ins.t}, style:{stroke:'#808080', lineWidth:1}});
  extra.push({type:'line', z:45, shape:{x1:br[0], y1:tl[1], x2:ins.l + ins.w, y2:ins.t + ins.h}, style:{stroke:'#808080', lineWidth:1}});
});
chart.setOption({graphic: option.graphic.concat(extra)});
</script></body></html>
